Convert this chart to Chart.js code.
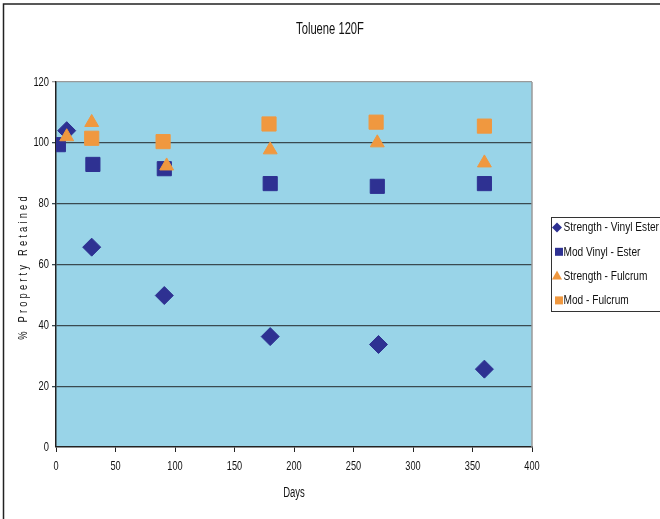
<!DOCTYPE html>
<html>
<head>
<meta charset="utf-8">
<title>Toluene 120F</title>
<script src="https://cdn.jsdelivr.net/npm/chart.js@4/dist/chart.umd.min.js"></script>
<style>
  html, body { margin: 0; padding: 0; background: #ffffff; }
  #wrap { width: 660px; height: 519px; position: relative; }
</style>
</head>
<body>
<div id="wrap"><canvas id="chart" width="660" height="519"></canvas></div>
<script>
// Exposure time (days) and % property retained for each series
const strengthVinylEsterDays = [9, 30, 91, 180, 271, 360];
const strengthVinylEster     = [104, 65.7, 49.8, 36.3, 33.7, 25.6];

const modVinylEsterDays = [2, 31, 91, 180, 270, 360];
const modVinylEster     = [99.4, 92.9, 91.5, 86.6, 85.7, 86.6];

const strengthFulcrumDays = [9, 30, 93, 180, 270, 360];
const strengthFulcrum     = [102.0, 106.7, 92.4, 97.7, 100.0, 93.4];

const modFulcrumDays = [30, 90, 179, 269, 360];
const modFulcrum     = [101.5, 100.4, 106.2, 106.8, 105.5];

const seriesNames = ['Strength - Vinyl Ester', 'Mod Vinyl - Ester', 'Strength - Fulcrum', 'Mod - Fulcrum'];
const xTicks = [0, 50, 100, 150, 200, 250, 300, 350, 400];
const yTicks = [0, 20, 40, 60, 80, 100, 120];

const chartTitle = 'Toluene 120F';
const xTitle = 'Days';
const yTitle = '% Property Retained';

const NAVY = '#2e3192';
const ORANGE = '#f0983f';
const PLOT_BG = '#99d4e8';
const FONT = '"Liberation Sans", Arial, sans-serif';

const pts = (xs, ys) => xs.map((x, i) => ({ x: x, y: ys[i] }));

// Text squeezed horizontally to a narrow face
function narrowText(ctx, text, x, y, size, sx, align) {
  ctx.save();
  ctx.translate(x, y);
  ctx.scale(sx, 1);
  ctx.font = size + 'px ' + FONT;
  ctx.textAlign = align;
  ctx.textBaseline = 'middle';
  ctx.fillText(text, 0, 0);
  ctx.restore();
}

// Plot background, frame, tick labels, titles and boxed legend
const decorations = {
  id: 'decorations',
  beforeDraw(chart) {
    const { ctx, chartArea: a } = chart;
    ctx.save();
    ctx.fillStyle = PLOT_BG;
    ctx.fillRect(a.left, a.top, a.right - a.left, a.bottom - a.top);
    ctx.restore();
  },
  afterDraw(chart) {
    const { ctx, chartArea: a } = chart;
    const xs = chart.scales.x, ys = chart.scales.y;
    ctx.save();

    // right edge of plot area
    ctx.strokeStyle = '#9a9a9a';
    ctx.lineWidth = 1.5;
    ctx.beginPath();
    ctx.moveTo(a.right, a.top);
    ctx.lineTo(a.right, a.bottom);
    ctx.stroke();

    // outer frame
    ctx.strokeStyle = '#222222';
    ctx.lineWidth = 1.5;
    ctx.beginPath();
    ctx.moveTo(3.5, 519);
    ctx.lineTo(3.5, 4);
    ctx.lineTo(660, 4);
    ctx.stroke();

    ctx.fillStyle = '#111111';

    // tick labels placed by the scales
    ys.ticks.forEach(t => {
      narrowText(ctx, String(t.value), 49, ys.getPixelForValue(t.value), 13, 0.72, 'right');
    });
    xs.ticks.forEach(t => {
      narrowText(ctx, String(t.value), xs.getPixelForValue(t.value), 466.5, 13.5, 0.68, 'center');
    });

    // chart title and x axis title
    narrowText(ctx, chartTitle, 330, 30, 16, 0.7, 'center');
    narrowText(ctx, xTitle, (a.left + a.right) / 2, 493, 14, 0.68, 'center');

    // y axis title, letter-spaced and rotated
    ctx.save();
    ctx.translate(23, (a.top + a.bottom) / 2 + 2);
    ctx.rotate(-Math.PI / 2);
    ctx.scale(0.72, 1);
    ctx.font = '13px ' + FONT;
    ctx.letterSpacing = '4.4px';
    ctx.textAlign = 'center';
    ctx.textBaseline = 'middle';
    ctx.fillText(yTitle, 0, 0);
    ctx.restore();

    // legend box
    const lx = 551.5, ly = 217.5, lw = 120, lh = 94;
    ctx.fillStyle = '#ffffff';
    ctx.fillRect(lx, ly, lw, lh);
    ctx.strokeStyle = '#333333';
    ctx.lineWidth = 1;
    ctx.strokeRect(lx, ly, lw, lh);

    chart.data.datasets.forEach((ds, i) => {
      const cy = 227.5 + i * 24.3;
      ctx.fillStyle = ds.backgroundColor;
      ctx.beginPath();
      if (ds.pointStyle === 'rectRot') {
        const cx = 557;
        ctx.moveTo(cx - 5, cy);
        ctx.lineTo(cx, cy - 5);
        ctx.lineTo(cx + 5, cy);
        ctx.lineTo(cx, cy + 5);
      } else if (ds.pointStyle === 'triangle') {
        const cx = 557;
        ctx.moveTo(cx, cy - 5.5);
        ctx.lineTo(cx + 5, cy + 3.5);
        ctx.lineTo(cx - 5, cy + 3.5);
      } else {
        ctx.rect(555, cy - 4, 8, 8);
      }
      ctx.closePath();
      ctx.fill();
      ctx.fillStyle = '#111111';
      narrowText(ctx, ds.label, 563.5, cy, 13.5, 0.75, 'left');
    });

    ctx.restore();
  }
};

const markerDataset = (label, data, color, style, radius, order) => ({
  label: label,
  data: data,
  backgroundColor: color,
  borderColor: color,
  borderWidth: 1,
  pointStyle: style,
  pointRadius: radius,
  pointHoverRadius: radius,
  showLine: false,
  order: order
});

new Chart(document.getElementById('chart'), {
  type: 'scatter',
  data: {
    datasets: [
      markerDataset(seriesNames[0], pts(strengthVinylEsterDays, strengthVinylEster), NAVY, 'rectRot', 9, 4),
      markerDataset(seriesNames[1], pts(modVinylEsterDays, modVinylEster), NAVY, 'rect', 10, 3),
      markerDataset(seriesNames[2], pts(strengthFulcrumDays, strengthFulcrum), ORANGE, 'triangle', 8, 2),
      markerDataset(seriesNames[3], pts(modFulcrumDays, modFulcrum), ORANGE, 'rect', 10, 1)
    ]
  },
  options: {
    responsive: false,
    animation: false,
    events: [],
    layout: { padding: { left: 0, top: 82, right: 128, bottom: 0 } },
    plugins: {
      legend: { display: false },
      title: { display: false },
      tooltip: { enabled: false }
    },
    scales: {
      x: {
        type: 'linear',
        min: 0,
        max: 400,
        afterFit: (s) => { s.height = 72; },
        afterBuildTicks: (s) => { s.ticks = xTicks.map(v => ({ value: v })); },
        ticks: { display: false },
        grid: {
          drawOnChartArea: false,
          drawTicks: true,
          tickLength: 5,
          color: '#222222',
          lineWidth: 1
        },
        border: { display: true, color: '#222222', width: 1.5 }
      },
      y: {
        type: 'linear',
        min: 0,
        max: 120,
        afterFit: (s) => { s.width = 56; },
        afterBuildTicks: (s) => { s.ticks = yTicks.map(v => ({ value: v })); },
        ticks: { display: false },
        grid: {
          drawOnChartArea: true,
          drawTicks: true,
          tickLength: 4,
          color: (c) => (c.tick && c.tick.value === 120 ? '#9a9a9a' : '#3a4a50'),
          lineWidth: (c) => (c.tick && c.tick.value === 0 ? 0 : 1.3)
        },
        border: { display: true, color: '#222222', width: 1.5 }
      }
    }
  },
  plugins: [decorations]
});
</script>
</body>
</html>
